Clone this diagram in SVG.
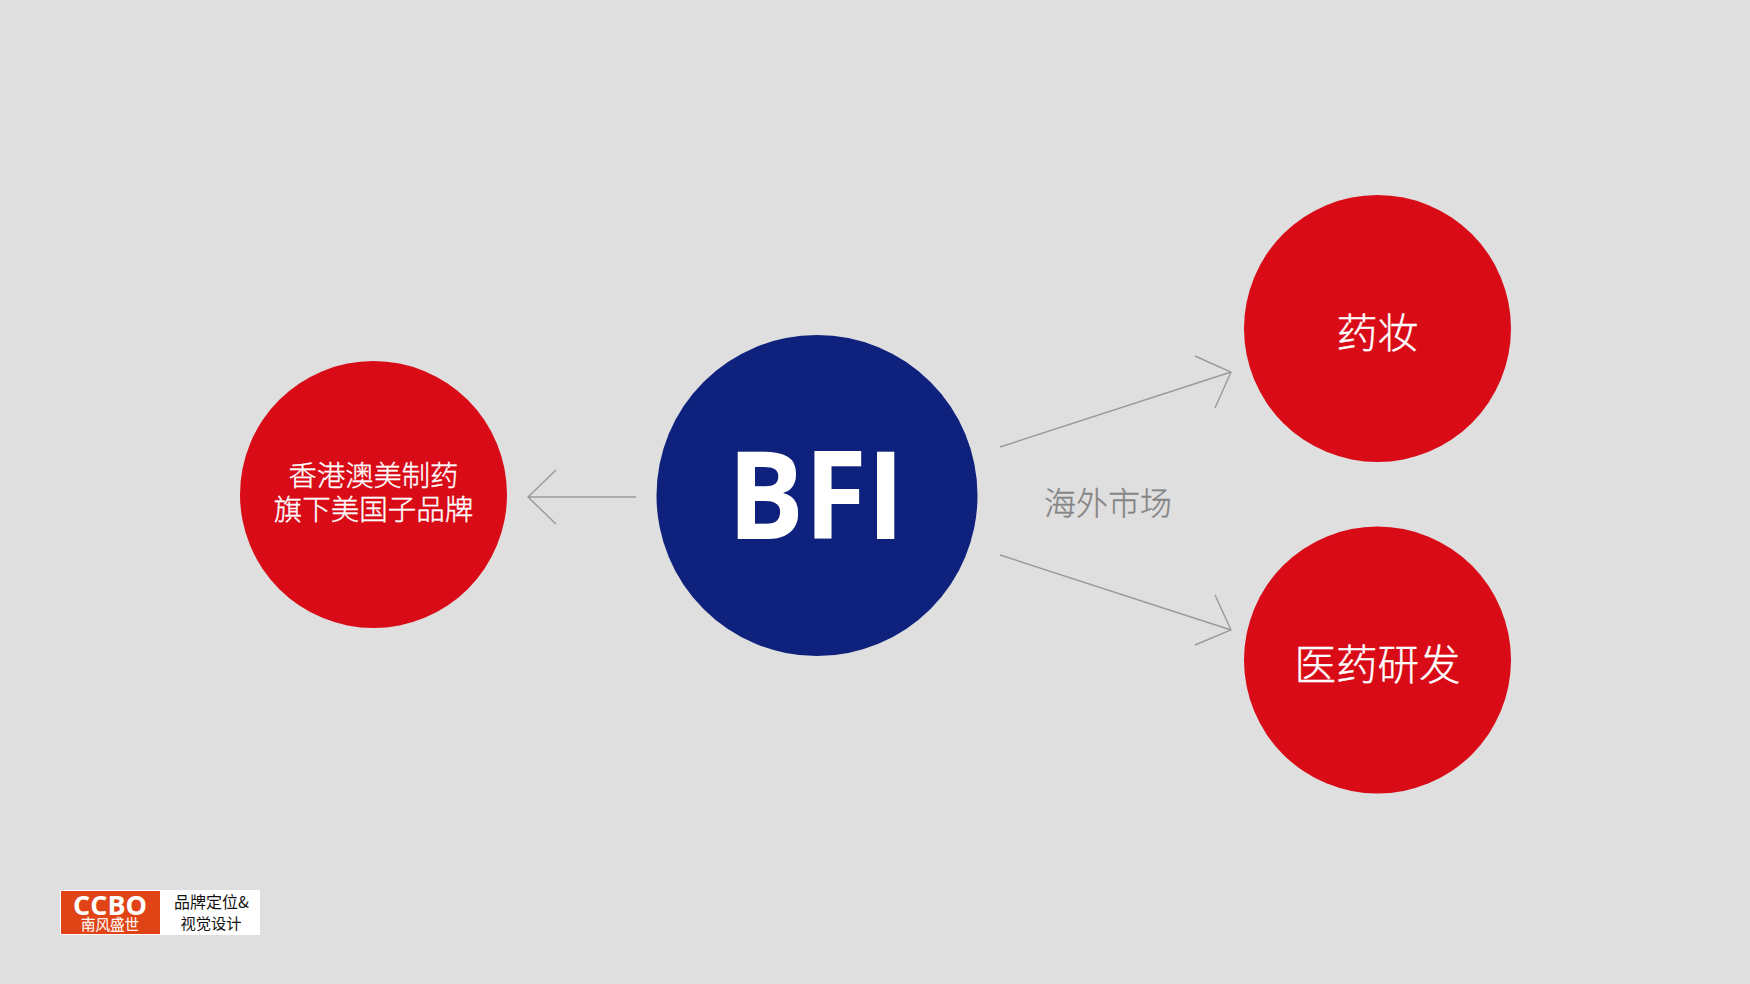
<svg xmlns="http://www.w3.org/2000/svg" width="1750" height="984" viewBox="0 0 1750 984">
<style>
.red{fill:#d80b17}
.cn{font-family:"Noto Sans CJK SC","Noto Sans",sans-serif;text-anchor:middle;font-weight:300}
.w{fill:#fff;stroke:#fff;stroke-width:.35}
.arrow{fill:none;stroke:#9a9a9a;stroke-width:1.4}
</style>
<rect width="1750" height="984" fill="#dfdfdf"/>
<g id="connectors">
<path class="arrow" d="M636 497H528M556 470L528 497L556 524"/>
<path class="arrow" d="M1000 447L1231 372M1195 356L1231 372L1215 408"/>
<path class="arrow" d="M1000 555L1231 630M1215 595L1231 630L1195 645"/>
</g>
<g id="node-parent"><circle class="red" cx="373.5" cy="494.5" r="133.5"/>
<text class="cn w" x="373.5" y="486" font-size="28.3">香港澳美制药</text>
<text class="cn w" x="373.5" y="520" font-size="28.5">旗下美国子品牌</text></g>
<g id="node-bfi"><circle cx="817" cy="495.5" r="160.5" fill="#0e217c"/>
<text x="727.5" y="539" textLength="177" lengthAdjust="spacingAndGlyphs" font-family="Open Sans,sans-serif" font-weight="700" font-size="122" fill="#fff">BFI</text></g>
<g id="node-cosmetics"><circle class="red" cx="1377.5" cy="328.5" r="133.5"/>
<text class="cn w" x="1377.5" y="348" font-size="41">药妆</text></g>
<g id="node-pharma"><circle class="red" cx="1377.5" cy="660" r="133.5"/>
<text class="cn w" x="1377.5" y="680" font-size="41.5">医药研发</text></g>
<g id="label-overseas"><text class="cn" x="1108" y="515" font-size="32" fill="#858585" stroke="#858585" stroke-width=".3">海外市场</text></g>
<g id="logo">
<rect x="60" y="890" width="200" height="45" fill="#fff"/>
<rect x="61" y="891" width="99" height="43" fill="#e04416"/>
<text x="73" y="915" textLength="74" lengthAdjust="spacingAndGlyphs" font-family="Open Sans,sans-serif" font-weight="700" font-size="27" fill="#fff">CCBO</text>
<text class="cn w" x="110" y="930" font-size="14.5">南风盛世</text>
<text class="cn" x="211.5" y="908" font-size="16" fill="#111" style="font-weight:400">品牌定位&amp;</text>
<text class="cn" x="211" y="929" font-size="15.3" fill="#111" style="font-weight:400">视觉设计</text>
</g>
</svg>
